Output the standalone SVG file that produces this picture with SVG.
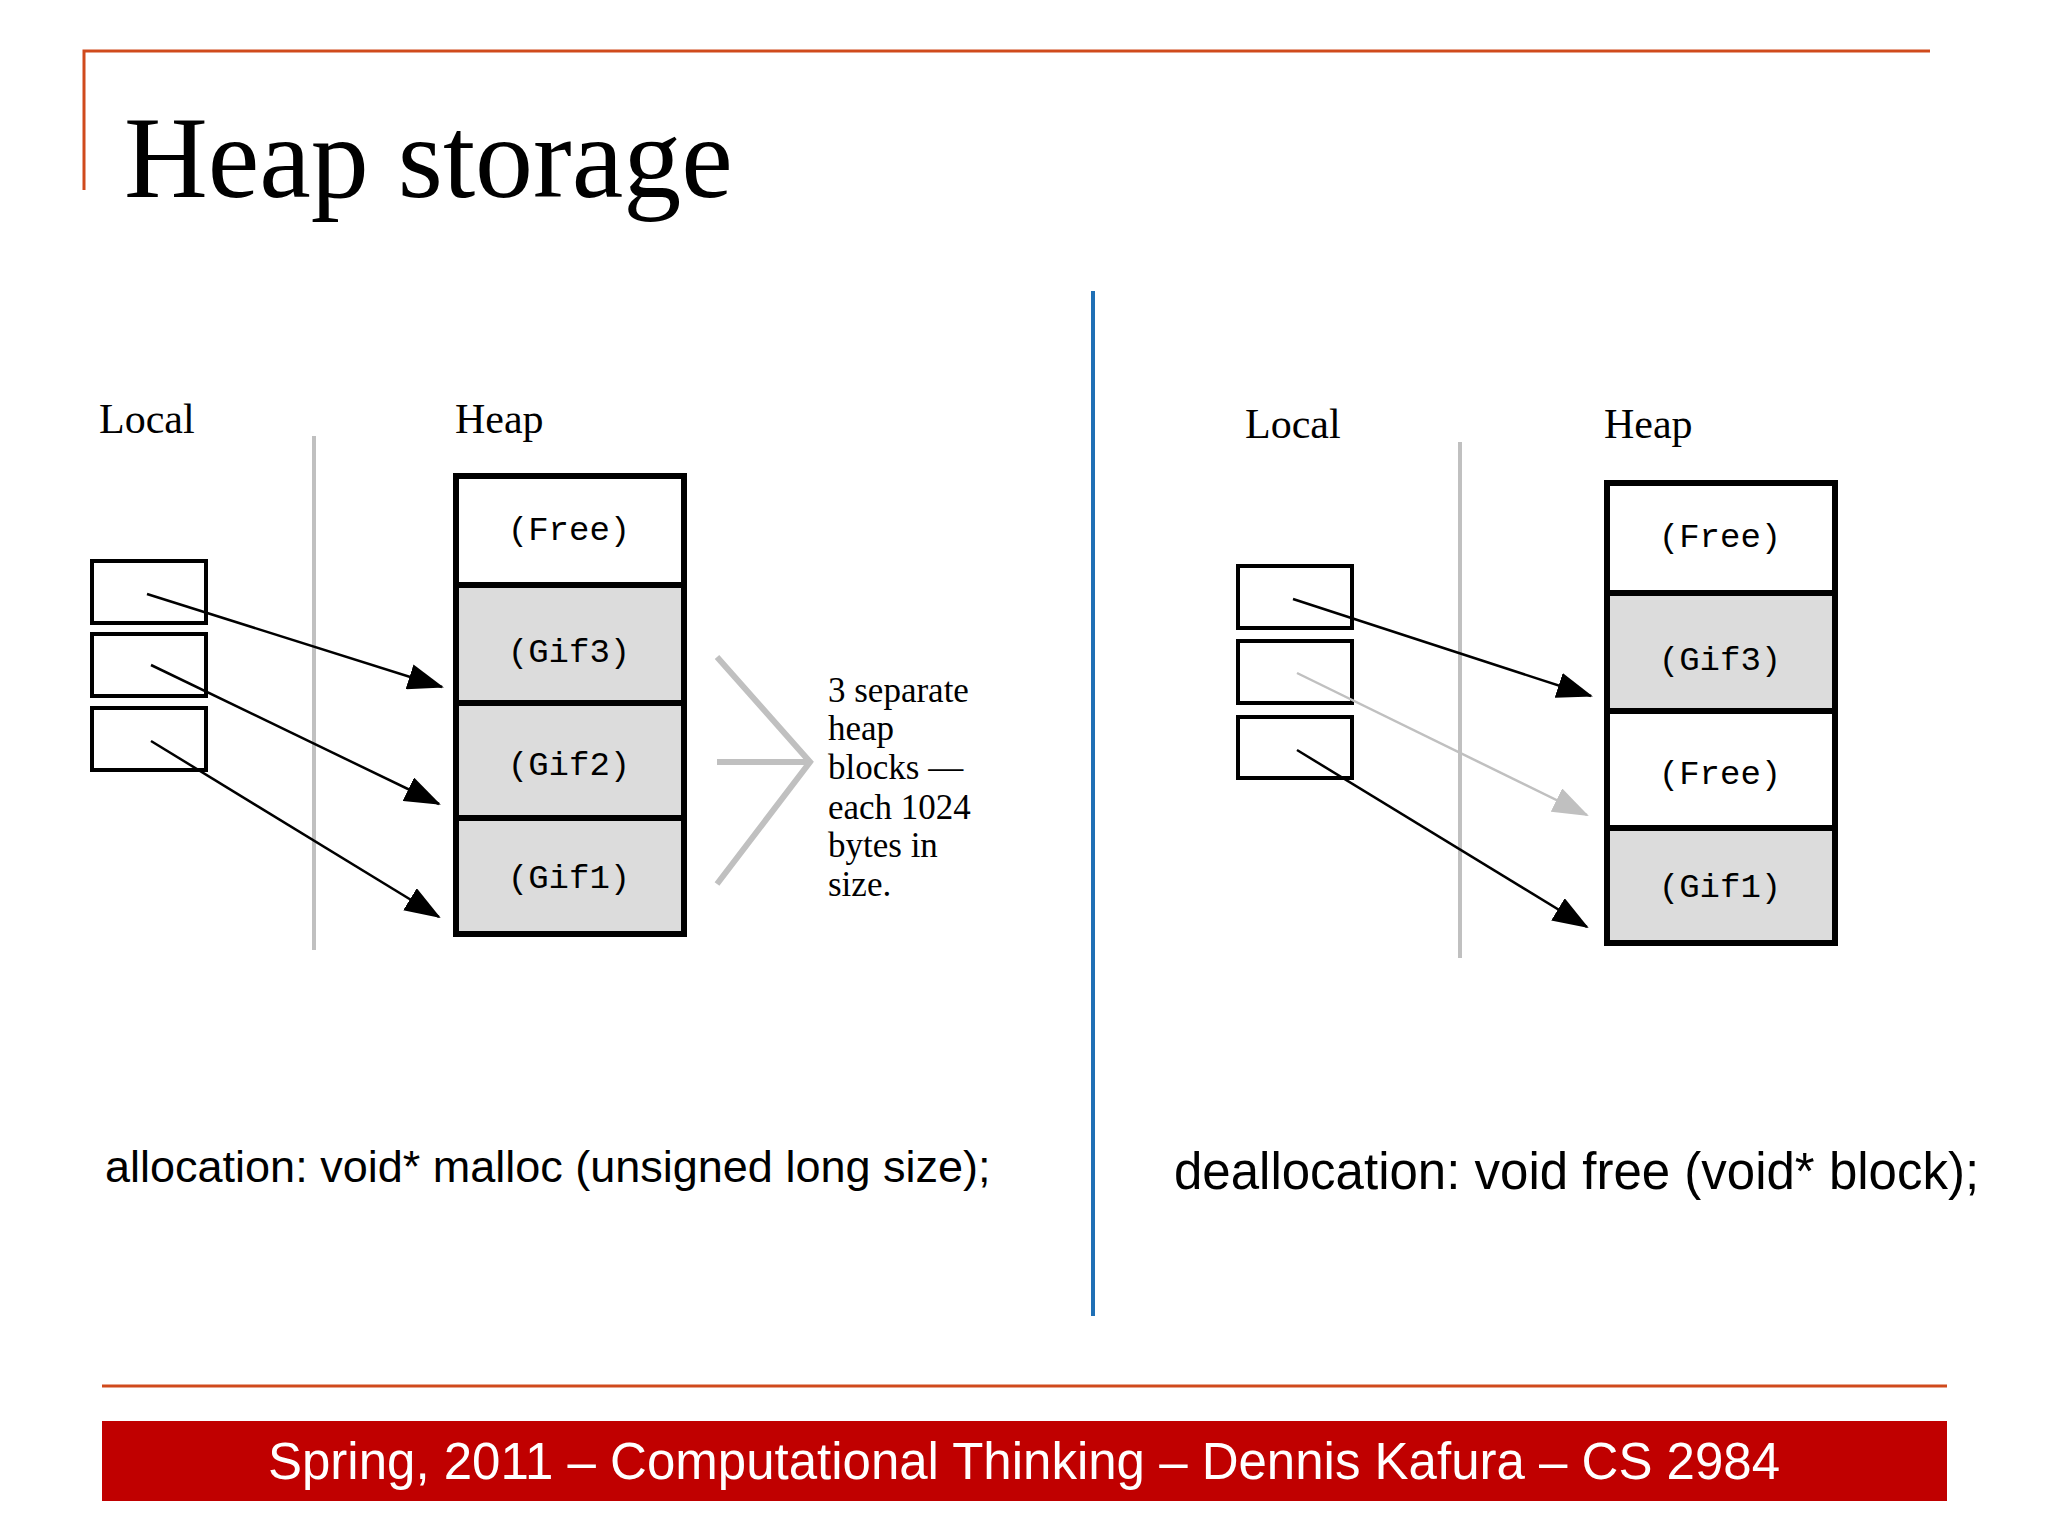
<svg xmlns="http://www.w3.org/2000/svg" width="2048" height="1536" viewBox="0 0 2048 1536">
<style>
.ser{font-family:"Liberation Serif","DejaVu Serif",serif;fill:#000}
.mono{font-family:"Liberation Mono","DejaVu Sans Mono",monospace;font-size:34px;fill:#000;text-anchor:middle}
.box{fill:#fff;stroke:#000;stroke-width:4}
.blk{stroke:#000;stroke-width:6}
.g{fill:#dcdcdc}
.w{fill:#fff}
.arr{stroke:#000;stroke-width:2.5;fill:none;marker-end:url(#ah)}
.arrg{stroke:#c0c0c0;stroke-width:2.5;fill:none;marker-end:url(#ahg)}
.sep{stroke:#c0c0c0;stroke-width:4}
</style>
<defs>
<marker id="ah" markerUnits="userSpaceOnUse" markerWidth="36" markerHeight="26" refX="34" refY="13" orient="auto"><path d="M0,0 L36,13 L0,26 z" fill="#000"/></marker>
<marker id="ahg" markerUnits="userSpaceOnUse" markerWidth="36" markerHeight="26" refX="34" refY="13" orient="auto"><path d="M0,0 L36,13 L0,26 z" fill="#c0c0c0"/></marker>
</defs>
<rect width="2048" height="1536" fill="#fff"/>
<g id="title">
<path d="M84,190 V51 H1930" fill="none" stroke="#d04a1c" stroke-width="3"/>
<text x="124" y="197" class="ser" font-size="116">Heap storage</text>
</g>
<line x1="1093" y1="291" x2="1093" y2="1316" stroke="#1f6fb5" stroke-width="4"/>
<g id="left">
<text x="99" y="433" class="ser" font-size="42">Local</text>
<text x="455" y="433" class="ser" font-size="42">Heap</text>
<line x1="314" y1="436" x2="314" y2="950" class="sep"/>
<rect id="l1" x="92" y="561" width="114" height="62" class="box"/>
<rect id="l2" x="92" y="634" width="114" height="62" class="box"/>
<rect id="l3" x="92" y="708" width="114" height="62" class="box"/>
<g id="free1"><rect x="456" y="476" width="228" height="109" class="w blk"/><text x="569" y="540" class="mono">(Free)</text></g>
<g id="gif3"><rect x="456" y="585" width="228" height="118" class="g blk"/><text x="569" y="662" class="mono">(Gif3)</text></g>
<g id="gif2"><rect x="456" y="703" width="228" height="115" class="g blk"/><text x="569" y="775" class="mono">(Gif2)</text></g>
<g id="gif1"><rect x="456" y="818" width="228" height="116" class="g blk"/><text x="569" y="888" class="mono">(Gif1)</text></g>
<path d="M717,657 L810,762 L717,884 M717,762 H810" fill="none" stroke="#c0c0c0" stroke-width="6"/>
<text class="ser" font-size="35"><tspan x="828" y="702">3 separate</tspan><tspan x="828" y="740">heap</tspan><tspan x="828" y="779">blocks —</tspan><tspan x="828" y="819">each 1024</tspan><tspan x="828" y="857">bytes in</tspan><tspan x="828" y="896">size.</tspan></text>
<text x="105" y="1182" font-family="Liberation Sans,Arial,sans-serif" font-size="45">allocation: void* malloc (unsigned long size);</text>
</g>
<g id="right">
<text x="1245" y="438" class="ser" font-size="42">Local</text>
<text x="1604" y="438" class="ser" font-size="42">Heap</text>
<line x1="1460" y1="442" x2="1460" y2="958" class="sep"/>
<rect id="r1" x="1238" y="566" width="114" height="62" class="box"/>
<rect id="r2" x="1238" y="641" width="114" height="62" class="box"/>
<rect id="r3" x="1238" y="717" width="114" height="61" class="box"/>
<g id="rfree1"><rect x="1607" y="483" width="228" height="110" class="w blk"/><text x="1720" y="547" class="mono">(Free)</text></g>
<g id="rgif3"><rect x="1607" y="593" width="228" height="118" class="g blk"/><text x="1720" y="670" class="mono">(Gif3)</text></g>
<g id="rfree2"><rect x="1607" y="711" width="228" height="117" class="w blk"/><text x="1720" y="784" class="mono">(Free)</text></g>
<g id="rgif1"><rect x="1607" y="828" width="228" height="115" class="g blk"/><text x="1720" y="897" class="mono">(Gif1)</text></g>
<text x="1174" y="1189" font-family="Liberation Sans,Arial,sans-serif" font-size="51">deallocation: void free (void* block);</text>
</g>
<g id="connectors">
<line x1="147" y1="594" x2="442" y2="687" class="arr"/>
<line x1="151" y1="665" x2="439" y2="804" class="arr"/>
<line x1="151" y1="741" x2="439" y2="917" class="arr"/>
<line x1="1293" y1="599" x2="1591" y2="696" class="arr"/>
<line x1="1297" y1="673" x2="1587" y2="815" class="arrg"/>
<line x1="1297" y1="750" x2="1587" y2="927" class="arr"/>
</g>
<g id="footer">
<line x1="102" y1="1386" x2="1947" y2="1386" stroke="#d04a1c" stroke-width="3"/>
<rect x="102" y="1421" width="1845" height="80" fill="#c00000"/>
<text x="1024" y="1479" text-anchor="middle" font-family="Liberation Sans,Arial,sans-serif" font-size="51" fill="#fff">Spring, 2011 – Computational Thinking – Dennis Kafura – CS 2984</text>
</g>
</svg>
